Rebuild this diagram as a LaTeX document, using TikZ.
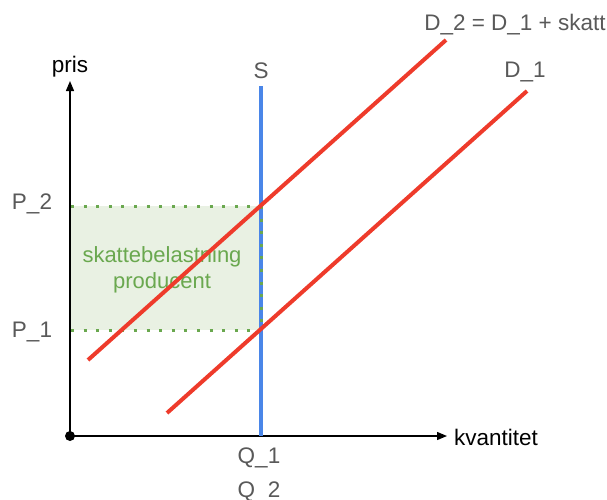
\documentclass[tikz,border=0pt]{standalone}
\usepackage{fontspec}
\setmainfont{Liberation Sans}
\usetikzlibrary{arrows.meta}
\definecolor{dred}{HTML}{EE3B2B}
\definecolor{sblue}{HTML}{4A86E8}
\definecolor{tgreen}{HTML}{6AA84F}
\definecolor{gfill}{HTML}{E9F1E3}
\definecolor{lgray}{HTML}{595959}
\tikzset{
  axis/.style={draw=black, line width=1.3pt, -{Triangle[length=10pt,width=8pt]}},
  curve/.style={draw=dred, line width=4pt},
  supply/.style={draw=sblue, line width=4pt},
  dotline/.style={draw=tgreen, line width=3pt, dash pattern=on 3pt off 9.6pt},
  glabel/.style={text=lgray, font=\fontsize{22.5}{26}\selectfont, inner sep=0pt, anchor=base},
  blabel/.style={text=black, font=\fontsize{22.5}{26}\selectfont, inner sep=0pt, anchor=base},
}
\begin{document}
\begin{tikzpicture}[x=1pt,y=-1pt]
\useasboundingbox (0,0) rectangle (607,499);
% coordinates
\coordinate (O) at (70,436);
\coordinate (Ytop) at (70,81);
\coordinate (Xend) at (447,436);
\coordinate (Stop) at (261,86);
\coordinate (Sbot) at (261,436);
\coordinate (D2a) at (88,360);
\coordinate (D2b) at (446,40);
\coordinate (D1a) at (167,413);
\coordinate (D1b) at (527,91);
\coordinate (RTL) at (71,206);
\coordinate (RTR) at (261,206);
\coordinate (RBL) at (71,330);
\coordinate (RBR) at (261,330);
% shaded area
\fill[gfill] (RTL) rectangle (RBR);
\node[text=tgreen, font=\fontsize{22}{26}\selectfont, align=center, inner sep=0pt] (area) at (162,270) {skattebelastning\\producent};
% axes
\draw[axis] (O) -- (Ytop);
\draw[axis] (O) -- (Xend);
\fill[black] (O) circle (5pt);
% supply
\draw[supply] (Sbot) -- (Stop);
% dotted borders
\draw[dotline] (RTL) -- (RTR);
\draw[dotline] (RBL) -- (RBR);
\draw[dotline] (RTR) -- (RBR);
% demand curves
\draw[curve] (D2a) -- (D2b);
\draw[curve] (D1a) -- (D1b);
% labels
\node[blabel] (pris) at (70,72) {pris};
\node[blabel, anchor=base west] (kv) at (454,445) {kvantitet};
\node[glabel] (S) at (261,78) {S};
\node[glabel] (lD2) at (515,30) {D\_2 = D\_1 + skatt};
\node[glabel] (lD1) at (525,77) {D\_1};
\node[glabel] (P2) at (32,209) {P\_2};
\node[glabel] (P1) at (32,337) {P\_1};
\node[glabel] (Q1) at (259,463) {Q\_1};
\node[glabel] (Q2) at (259,497) {Q\_2};
\end{tikzpicture}
\end{document}
